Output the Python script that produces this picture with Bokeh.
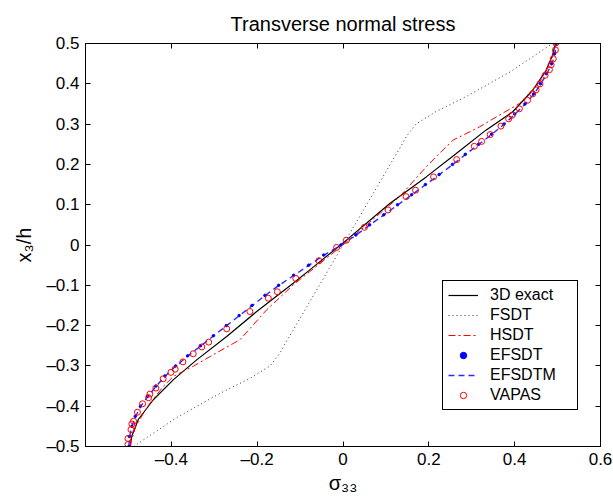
from bokeh.plotting import figure
from bokeh.models import (Range1d, FixedTicker, LinearAxis, CustomJSTickFormatter,
                          Legend, LegendItem)
from bokeh.embed import file_html
from bokeh.resources import INLINE

# ---------------- data ----------------
x_ticks = [-0.4, -0.2, 0.0, 0.2, 0.4, 0.6]
y_ticks = [-0.5, -0.4, -0.3, -0.2, -0.1, 0.0, 0.1, 0.2, 0.3, 0.4, 0.5]

exact_z = [-0.5, -0.474, -0.433, -0.384, -0.334, -0.285, -0.227, -0.165, -0.095, -0.058,
           0.012, 0.103, 0.169, 0.227, 0.285, 0.330, 0.384, 0.433, 0.470, 0.5]
exact_s = [-0.496, -0.492, -0.477, -0.442, -0.395, -0.341, -0.271, -0.201, -0.116, -0.073,
           0.008, 0.109, 0.194, 0.264, 0.333, 0.395, 0.442, 0.473, 0.488, 0.495]

fsdt_z = [-0.5, -0.43, -0.37, -0.33, -0.30, -0.27, -0.245, -0.2, -0.1, 0.0,
          0.1, 0.2, 0.245, 0.27, 0.30, 0.33, 0.37, 0.43, 0.5]
fsdt_s = [-0.488, -0.39, -0.29, -0.215, -0.17, -0.148, -0.135, -0.11, -0.055, 0.0,
          0.055, 0.11, 0.135, 0.148, 0.17, 0.215, 0.29, 0.39, 0.488]

hsdt_z = [-0.5, -0.45, -0.4, -0.35, -0.326, -0.301, -0.272, -0.235, -0.161, -0.099, 0.0,
          0.12, 0.194, 0.26, 0.293, 0.322, 0.351, 0.4, 0.45, 0.5]
hsdt_s = [-0.497, -0.483, -0.455, -0.418, -0.395, -0.349, -0.302, -0.24, -0.178, -0.116, 0.0,
          0.132, 0.194, 0.256, 0.318, 0.364, 0.411, 0.456, 0.483, 0.497]

efsdt_z = [-0.5, -0.475, -0.45, -0.425, -0.4, -0.375, -0.35, -0.325, -0.3, -0.275, -0.25,
           -0.225, -0.2, -0.175, -0.15, -0.125, -0.1, -0.075, -0.05, -0.025, 0.0,
           0.025, 0.05, 0.075, 0.1, 0.125, 0.15, 0.175, 0.2, 0.225, 0.25,
           0.275, 0.3, 0.325, 0.35, 0.375, 0.4, 0.425, 0.45, 0.475, 0.5]
efsdt_s = [-0.499, -0.498, -0.492, -0.484, -0.472, -0.455, -0.436, -0.415, -0.39, -0.362, -0.332,
           -0.302, -0.272, -0.242, -0.212, -0.182, -0.15, -0.115, -0.08, -0.045, -0.005,
           0.03, 0.062, 0.095, 0.127, 0.16, 0.192, 0.224, 0.255, 0.285, 0.316,
           0.346, 0.375, 0.4, 0.424, 0.444, 0.46, 0.474, 0.486, 0.493, 0.497]

efsdtm_z = efsdt_z
efsdtm_s = [-0.499, -0.497, -0.492, -0.483, -0.471, -0.454, -0.435, -0.414, -0.389, -0.361, -0.331,
            -0.301, -0.271, -0.241, -0.211, -0.181, -0.149, -0.114, -0.079, -0.044, -0.004,
            0.031, 0.063, 0.096, 0.128, 0.161, 0.193, 0.225, 0.256, 0.286, 0.317,
            0.347, 0.376, 0.401, 0.425, 0.445, 0.461, 0.475, 0.487, 0.494, 0.497]

vapas_z = [-0.495, -0.480, -0.458, -0.444, -0.437, -0.415, -0.394, -0.379, -0.370, -0.355,
           -0.332, -0.316, -0.308, -0.290, -0.270, -0.253, -0.241, -0.208, -0.165, -0.132,
           -0.116, -0.083, -0.039, -0.006, 0.012, 0.044, 0.087, 0.120, 0.136, 0.169,
           0.212, 0.245, 0.257, 0.274, 0.295, 0.313, 0.322, 0.338, 0.359, 0.375,
           0.385, 0.400, 0.421, 0.435, 0.447, 0.462, 0.484, 0.501]
vapas_s = [-0.501, -0.501, -0.494, -0.492, -0.488, -0.479, -0.467, -0.453, -0.450, -0.436,
           -0.419, -0.401, -0.391, -0.373, -0.349, -0.329, -0.313, -0.271, -0.217, -0.174,
           -0.153, -0.110, -0.056, -0.015, 0.008, 0.050, 0.105, 0.147, 0.169, 0.211,
           0.265, 0.306, 0.323, 0.343, 0.368, 0.386, 0.394, 0.411, 0.430, 0.442,
           0.450, 0.459, 0.471, 0.481, 0.485, 0.490, 0.495, 0.496]

FONT = "Liberation Sans"

# ---------------- figure ----------------
p = figure(width=613, height=496, output_backend="svg", toolbar_location=None,
           x_range=Range1d(-0.6, 0.6), y_range=Range1d(-0.5, 0.5),
           min_border_left=85, min_border_right=13, min_border_top=43, min_border_bottom=46)
p.xgrid.visible = False
p.ygrid.visible = False
p.outline_line_color = "black"
p.outline_line_width = 1
p.outline_line_alpha = 1
p.background_fill_color = "white"
p.border_fill_color = "white"

p.title.text = "Transverse normal stress"
p.title.align = "center"
p.title.text_font = FONT
p.title.text_font_size = "20px"
p.title.text_font_style = "normal"
p.title.text_color = "black"
p.title.standoff = 18

fmt = CustomJSTickFormatter(code="""
if (Math.abs(tick) < 1e-9) { return '0'; }
return tick.toFixed(1).replace('-', '\u2013');
""")

def style_axis(ax, ticks, show_labels):
    ax.ticker = FixedTicker(ticks=ticks)
    ax.formatter = fmt
    ax.major_tick_in = 5
    ax.major_tick_out = 0
    ax.minor_tick_line_color = None
    ax.axis_line_color = "black"
    ax.major_tick_line_color = "black"
    ax.major_label_text_font = FONT
    ax.major_label_text_color = "black"
    if show_labels:
        ax.major_label_text_font_size = "17px"
    else:
        ax.major_label_text_font_size = "0px"
        ax.major_label_standoff = 0

style_axis(p.xaxis[0], x_ticks, True)
style_axis(p.yaxis[0], y_ticks, True)
p.xaxis[0].major_label_standoff = 3
p.yaxis[0].major_label_standoff = 6

p.xaxis[0].axis_label = "σ₃₃"
p.xaxis[0].axis_label_text_font = FONT
p.xaxis[0].axis_label_text_font_size = "20px"
p.xaxis[0].axis_label_text_font_style = "normal"
p.xaxis[0].axis_label_text_color = "black"
p.xaxis[0].axis_label_standoff = 0

p.yaxis[0].axis_label = "x₃/h"
p.yaxis[0].axis_label_text_font = FONT
p.yaxis[0].axis_label_text_font_size = "20px"
p.yaxis[0].axis_label_text_font_style = "normal"
p.yaxis[0].axis_label_text_color = "black"
p.yaxis[0].axis_label_standoff = 8

top_ax = LinearAxis()
style_axis(top_ax, x_ticks, False)
p.add_layout(top_ax, "above")
right_ax = LinearAxis()
style_axis(right_ax, y_ticks, False)
p.add_layout(right_ax, "right")

# ---------------- series ----------------
r_exact = p.line(exact_s, exact_z, line_color="black", line_width=1.2)
r_fsdt = p.line(fsdt_s, fsdt_z, line_color="#333333", line_width=1, line_dash="1 3")
r_hsdt = p.line(hsdt_s, hsdt_z, line_color="red", line_width=1, line_dash="7 3 2 3")
r_efsdtm = p.line(efsdtm_s, efsdtm_z, line_color="#2a2aff", line_width=1.4, line_dash="6 4")
r_efsdt = p.scatter(efsdt_s, efsdt_z, marker="circle", size=2.5, fill_color="blue",
                    line_color="blue")
r_vapas = p.scatter(vapas_s, vapas_z, marker="circle", size=6, fill_color=None,
                    line_color="red", line_width=1)

legend = Legend(items=[
    LegendItem(label="3D exact", renderers=[r_exact]),
    LegendItem(label="FSDT", renderers=[r_fsdt]),
    LegendItem(label="HSDT", renderers=[r_hsdt]),
    LegendItem(label="EFSDT", renderers=[r_efsdt]),
    LegendItem(label="EFSDTM", renderers=[r_efsdtm]),
    LegendItem(label="VAPAS", renderers=[r_vapas]),
], location=(357, 36))
legend.label_text_font = FONT
legend.label_text_font_size = "16px"
legend.label_text_color = "black"
legend.border_line_color = "black"
legend.border_line_width = 1
legend.border_line_alpha = 1
legend.background_fill_color = "white"
legend.background_fill_alpha = 1
legend.padding = 5
legend.spacing = 2
legend.label_height = 16
legend.glyph_height = 16
legend.glyph_width = 30
legend.label_standoff = 12
legend.label_width = 82
legend.margin = 0
p.add_layout(legend, "center")

open("out.html", "w").write(file_html(p, INLINE))
